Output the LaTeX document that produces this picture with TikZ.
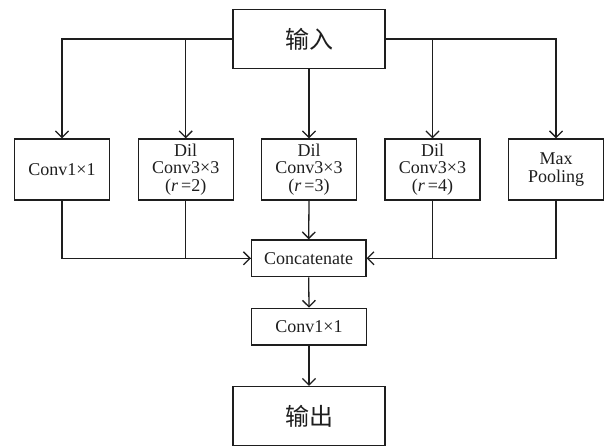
\documentclass[tikz,border=0pt]{standalone}
\usepackage{fontspec}
\setmainfont{Liberation Serif}
\newfontfamily\cjk{Noto Sans CJK SC}
\usetikzlibrary{arrows.meta}
\definecolor{ink}{RGB}{30,30,30}
\begin{document}
\begin{tikzpicture}[x=1pt,y=-1pt,
  box/.style={draw=ink,line width=1.3pt,inner sep=0pt,align=center,text=ink,
    font=\fontsize{18}{17.5}\selectfont},
  branch/.style={box,minimum width=95pt,minimum height=61pt},
  flat/.style={box,minimum width=114.5pt,minimum height=36.7pt},
  io/.style={box,minimum width=152pt,minimum height=59pt,font=\cjk\fontsize{24}{24}\selectfont},
  link/.style={draw=ink,line width=1.3pt},
  arr/.style={link,-{Straight Barb[length=6.5pt,width=13pt,line width=1.3pt]}}]
\useasboundingbox (0,0) rectangle (612,446);

% input and output
\node[io] (inp) at (309,39) {输入};
\node[io] (out) at (309,416) {输出};

% parallel branches
\node[branch] (b1) at (62,169.5) {Conv1×1};
\node[branch] (b2) at (185.7,169.5) {Dil\\Conv3×3\\(\textit{r}\,=2)};
\node[branch] (b3) at (309,169.5) {Dil\\Conv3×3\\(\textit{r}\,=3)};
\node[branch] (b4) at (432.5,169.5) {Dil\\Conv3×3\\(\textit{r}\,=4)};
\node[branch] (b5) at (556,169.5) {Max\\Pooling};

% merge and projection
\node[flat] (cat) at (308.7,258.3) {Concatenate};
\node[flat] (c11) at (309,326.7) {Conv1×1};

% fan-out from the input
\draw[arr] (inp.west) -| (b1.north);
\draw[arr] (inp.west) -| (b2.north);
\draw[arr] (inp.south) -- (b3.north);
\draw[arr] (inp.east) -| (b4.north);
\draw[arr] (inp.east) -| (b5.north);

% fan-in to the concatenation
\draw[link] (b1.south) |- (cat.west);
\draw[arr] (b2.south) |- (cat.west);
\draw[arr] (b3.south) -- (cat.north);
\draw[link] (b5.south) |- (cat.east);
\draw[arr] (b4.south) |- (cat.east);

% output path
\draw[arr] (cat.south) -- (c11.north);
\draw[arr] (c11.south) -- (out.north);
\end{tikzpicture}
\end{document}
